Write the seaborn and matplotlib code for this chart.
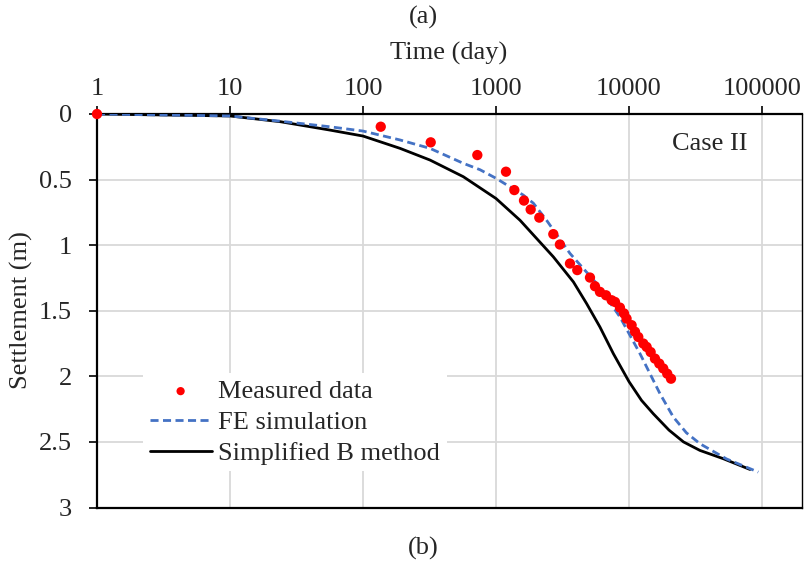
import numpy as np
import pandas as pd
import matplotlib
matplotlib.use('Agg')
import matplotlib.pyplot as plt
import seaborn as sns
from matplotlib.ticker import FixedLocator, NullLocator, FuncFormatter

# --- data ---
measured_time = [1, 136, 323, 724, 1189, 1374, 1624, 1823, 2117, 2698, 3024,
                 3600, 4085, 5090, 5550, 6050, 6720, 7410, 7850, 8550, 9170,
                 9590, 10470, 11100, 11750, 12820, 13580, 14550, 15680, 16900,
                 18100, 19400, 20700]
measured_settlement = [0, 0.097, 0.216, 0.313, 0.44, 0.58, 0.66, 0.728, 0.79,
                       0.916, 0.995, 1.14, 1.19, 1.247, 1.313, 1.356, 1.382,
                       1.42, 1.433, 1.476, 1.52, 1.56, 1.61, 1.66, 1.70, 1.75,
                       1.776, 1.815, 1.865, 1.903, 1.94, 1.98, 2.018]

fe_time = [1, 10, 24, 56, 100, 190, 319, 568, 759, 1000, 1603, 1910, 2400,
           3600, 5710, 8550, 12100, 17100, 21540, 27000, 34200, 54200, 93800]
fe_settlement = [0, 0.015, 0.055, 0.097, 0.13, 0.198, 0.262, 0.376, 0.425,
                 0.49, 0.618, 0.68, 0.81, 1.063, 1.292, 1.547, 1.827, 2.132,
                 2.31, 2.43, 2.514, 2.63, 2.73]

b_time = [1, 10, 24, 56, 100, 190, 319, 568, 1000, 1516, 2700, 3820, 4800,
          6050, 7630, 10000, 12420, 15230, 20000, 25700, 34200, 51200, 81300]
b_settlement = [0, 0.015, 0.059, 0.122, 0.168, 0.262, 0.351, 0.478, 0.644,
                0.81, 1.089, 1.28, 1.445, 1.624, 1.827, 2.04, 2.183, 2.285,
                2.41, 2.50, 2.565, 2.628, 2.71]

x_ticks = [1, 10, 100, 1000, 10000, 100000]
y_ticks = [0, 0.5, 1, 1.5, 2, 2.5, 3]

sns.set_theme(style='white')
plt.rcParams['font.family'] = ['Liberation Serif', 'DejaVu Serif']
fs = 19

fig = plt.figure(figsize=(8.06, 5.65), dpi=100)
ax = fig.add_axes([97 / 806, 1 - 507.5 / 565, 705 / 806, 393.5 / 565])

sns.lineplot(x=fe_time, y=fe_settlement, ax=ax, color='#4472C4', lw=2.0,
             linestyle=(0, (2.9, 1.6)), label='FE simulation', zorder=3)
sns.lineplot(x=b_time, y=b_settlement, ax=ax, color='black', lw=2.0,
             label='Simplified B method', zorder=2)
sns.scatterplot(x=measured_time, y=measured_settlement, ax=ax, color='#FF0000',
                s=55, edgecolor='none', label='Measured data', zorder=5,
                clip_on=False)

ax.set_xscale('log')
ax.set_xlim(1, 2e5)
ax.set_ylim(3, 0)

ax.xaxis.set_major_locator(FixedLocator(x_ticks))
ax.xaxis.set_minor_locator(NullLocator())
ax.xaxis.set_major_formatter(FuncFormatter(lambda v, p: f'{v:.0f}'))
ax.yaxis.set_major_locator(FixedLocator(y_ticks))
ax.yaxis.set_major_formatter(FuncFormatter(lambda v, p: f'{v:g}'))

ax.xaxis.tick_top()
ax.tick_params(axis='x', which='major', direction='out', length=6, width=1.2,
               color='black', labelsize=fs, pad=4, bottom=False, top=True)
ax.tick_params(axis='y', which='major', direction='out', length=6, width=1.2,
               color='black', labelsize=fs, pad=12, left=True)

ax.grid(True, which='major', color='#D9D9D9', lw=1.3)
for side, w in [('left', 1.6), ('top', 1.6), ('bottom', 1.6), ('right', 1.0)]:
    ax.spines[side].set_visible(True)
    ax.spines[side].set_color('black')
    ax.spines[side].set_linewidth(w)
ax.set_xlabel('')
ax.set_ylabel('')

ax.text(710 / 806, 1 - 144 / 565, 'Case II', transform=fig.transFigure,
        ha='center', va='center', fontsize=fs)

fig.text(423 / 806, 1 - 17 / 565, '(a)', ha='center', va='center', fontsize=fs)
fig.text(449 / 806, 1 - 53 / 565, 'Time (day)', ha='center', va='center', fontsize=fs)
fig.text(423 / 806, 1 - 548 / 565, '(b)', ha='center', va='center', fontsize=fs)
fig.text(21 / 806, 1 - 310 / 565, 'Settlement (m)', ha='center', va='center',
         rotation=90, fontsize=fs)

handles, labels = ax.get_legend_handles_labels()
order = ['Measured data', 'FE simulation', 'Simplified B method']
hmap = dict(zip(labels, handles))
leg = ax.legend([hmap[k] for k in order], order, loc='upper left',
                bbox_to_anchor=(143 / 806, 1 - 373 / 565),
                bbox_transform=fig.transFigure, fontsize=fs, frameon=True,
                fancybox=False, handlelength=2.35, handletextpad=0.25,
                labelspacing=0.28, borderpad=0.25, borderaxespad=0,
                markerscale=0.8)
leg.get_frame().set_facecolor('white')
leg.get_frame().set_edgecolor('none')
leg.get_frame().set_alpha(1)

fig.savefig('out.png', dpi=100)
